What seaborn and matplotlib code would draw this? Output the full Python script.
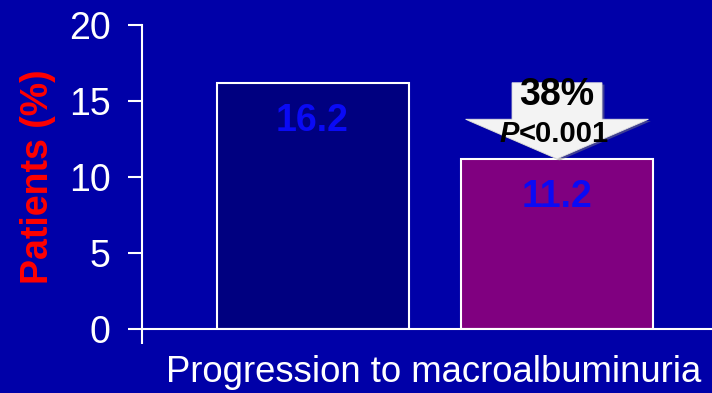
import matplotlib
matplotlib.use("Agg")
import matplotlib.pyplot as plt
from matplotlib.patches import Polygon
from matplotlib.offsetbox import TextArea, HPacker, AnnotationBbox
import seaborn as sns
import pandas as pd

# Data
arms = ["Placebo", "Treatment"]
patients_pct = [16.2, 11.2]
bar_colors = ["#000080", "#800080"]
category_label = "Progression to macroalbuminuria"
reduction_label = "38%"
p_label = "<0.001"
y_ticks = [0, 5, 10, 15, 20]

BG = "#0000A8"
FONT = "Liberation Sans"
FS = 27

sns.set_theme(style="white")
plt.rcParams["font.family"] = [FONT, "DejaVu Sans"]

df = pd.DataFrame({"arm": arms, "pct": patients_pct})

fig = plt.figure(figsize=(7.12, 3.93), dpi=100, facecolor=BG)
ax = fig.add_axes([0.199, 0.1628, 0.801, 0.7736])
ax.set_facecolor(BG)

sns.barplot(data=df, x="arm", y="pct", hue="arm", palette=bar_colors,
            saturation=1, width=0.785, edgecolor="white", linewidth=1.5,
            legend=False, ax=ax, zorder=2)

xmin, xmax = -0.699, 1.634
ax.set_xlim(xmin, xmax)
ax.set_ylim(0, 20)
ax.set_yticks(y_ticks)
ax.set_yticklabels([str(t) for t in y_ticks], fontsize=FS, color="white")
ax.set_xticks([xmin])
ax.set_xticklabels([""])
ax.tick_params(axis="y", direction="out", length=10, width=1.5,
               color="white", pad=12.5, left=True)
ax.tick_params(axis="x", direction="out", length=11, width=1.5,
               color="white", bottom=True)

for side in ("top", "right"):
    ax.spines[side].set_visible(False)
for side in ("left", "bottom"):
    ax.spines[side].set_color("white")
    ax.spines[side].set_linewidth(1.5)
ax.spines["left"].set_zorder(3)

ax.set_ylabel("Patients (%)", fontsize=FS, fontweight="bold", color="#FF0000")
ax.yaxis.set_label_coords(-0.150, 0.5)
ax.set_xlabel(category_label, fontsize=26.3, color="white")
ax.xaxis.set_label_coords(0.512, -0.086)

# Value labels inside the bars
for i, v in enumerate(patients_pct):
    ax.text(i, v - 2.5, f"{v:.1f}", ha="center", va="center",
            fontsize=FS, fontweight="bold", color="#0A0AF5", zorder=4)

# Reduction arrow: from the first bar's level down to the second bar's top
top, tip = patients_pct[0], patients_pct[1]
cx = 1
shaft_hw, head_hw, head_h = 0.184, 0.374, 2.6
arrow_pts = [
    (cx - shaft_hw, top), (cx + shaft_hw, top),
    (cx + shaft_hw, tip + head_h), (cx + head_hw, tip + head_h),
    (cx, tip), (cx - head_hw, tip + head_h),
    (cx - shaft_hw, tip + head_h),
]
shadow = Polygon([(x + 0.01, y - 0.12) for x, y in arrow_pts], closed=True,
                 facecolor="#808080", alpha=0.5, edgecolor="none", zorder=4)
ax.add_patch(shadow)
ax.add_patch(Polygon(arrow_pts, closed=True, facecolor="#F3F3F3",
                     edgecolor="#E0E0E0", linewidth=0.6, zorder=5))

ax.text(cx, 15.4, reduction_label, ha="center", va="center", fontsize=FS,
        fontweight="bold", color="black", zorder=6)

p_box = HPacker(children=[
    TextArea("P", textprops=dict(fontsize=21, fontweight="bold",
                                 fontstyle="italic", color="black",
                                 family=FONT)),
    TextArea(p_label, textprops=dict(fontsize=21, fontweight="bold",
                                     color="black", family=FONT)),
], pad=0, sep=0, align="baseline")
ab = AnnotationBbox(p_box, (cx - 0.01, 12.85), frameon=False,
                    box_alignment=(0.5, 0.5), zorder=6)
ax.add_artist(ab)

fig.savefig("out.png", dpi=100, facecolor=BG)
